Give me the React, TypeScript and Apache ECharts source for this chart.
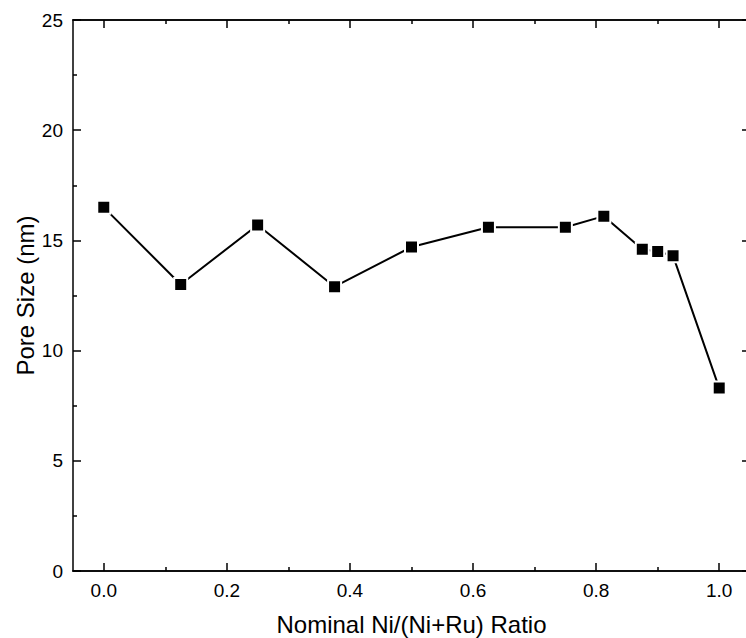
import React, { useEffect, useRef } from "react";
import * as echarts from "echarts";

const ratios = [0, 0.125, 0.25, 0.375, 0.5, 0.625, 0.75, 0.8125, 0.875, 0.9, 0.925, 1.0];
const poreSizes = [16.5, 13.0, 15.7, 12.9, 14.7, 15.6, 15.6, 16.1, 14.6, 14.5, 14.3, 8.3];
const xMajorTicks = [0, 0.2, 0.4, 0.6, 0.8, 1.0];
const xMinorTicks = [0.1, 0.3, 0.5, 0.7, 0.9];
const xTitle = "Nominal Ni/(Ni+Ru) Ratio";
const yTitle = "Pore Size (nm)";

const FONT = "'Liberation Sans', Arial, sans-serif";

export default function App() {
  const ref = useRef<HTMLDivElement>(null);
  useEffect(() => {
    if (!ref.current) return;
    const chart = echarts.init(ref.current, null, { renderer: "svg" });
    const axisLine = { show: true, onZero: false, lineStyle: { color: "#000", width: 1.5 } };
    const mkX = (pos: "top" | "bottom", ticks: number[], len: number, labels: boolean, name?: string) => ({
      type: "value",
      position: pos,
      min: -0.05,
      max: 1.05,
      name: name,
      nameLocation: "middle",
      nameGap: 41,
      nameMoveOverlap: false,
      nameTextStyle: { fontFamily: FONT, fontSize: 24, color: "#000" },
      axisLine,
      splitLine: { show: false },
      axisTick: { show: true, inside: true, length: len, customValues: ticks, lineStyle: { color: "#000", width: 1.5 } },
      axisLabel: labels
        ? { show: true, customValues: ticks, fontFamily: FONT, fontSize: 19, color: "#000", margin: 10, formatter: (v: number) => v.toFixed(1) }
        : { show: false },
    });
    const mkY = (pos: "left" | "right", labels: boolean, name?: string) => ({
      type: "value",
      position: pos,
      min: 0,
      max: 25,
      interval: 5,
      name: name,
      nameLocation: "middle",
      nameGap: 36,
      nameMoveOverlap: false,
      nameTextStyle: { fontFamily: FONT, fontSize: 24, color: "#000" },
      axisLine,
      splitLine: { show: false },
      axisTick: { show: true, inside: true, length: 8, lineStyle: { color: "#000", width: 1.5 } },
      minorTick: { show: true, splitNumber: 2, length: 4, lineStyle: { color: "#000", width: 1.5 } },
      minorSplitLine: { show: false },
      axisLabel: labels ? { show: true, fontFamily: FONT, fontSize: 19, color: "#000", margin: 10 } : { show: false },
    });
    chart.setOption({
      animation: false,
      backgroundColor: "#fff",
      grid: { left: 73, top: 20, width: 677, height: 551, containLabel: false, outerBoundsMode: "none" },
      xAxis: [
        mkX("bottom", xMajorTicks, 8, true, xTitle),
        mkX("bottom", xMinorTicks, 4, false),
        mkX("top", xMajorTicks, 8, false),
        mkX("top", xMinorTicks, 4, false),
      ],
      yAxis: [mkY("left", true, yTitle), mkY("right", false)],
      series: [
        {
          type: "line",
          xAxisIndex: 0,
          yAxisIndex: 0,
          data: ratios.map((r, i) => [r, poreSizes[i]]),
          symbol: "rect",
          symbolSize: 13,
          lineStyle: { color: "#000", width: 2 },
          itemStyle: { color: "#000", borderColor: "#fff", borderWidth: 2 },
        },
      ],
    });
    return () => chart.dispose();
  }, []);
  return <div ref={ref} style={{ position: "fixed", left: 0, top: 0, width: 746, height: 638 }} />;
}
